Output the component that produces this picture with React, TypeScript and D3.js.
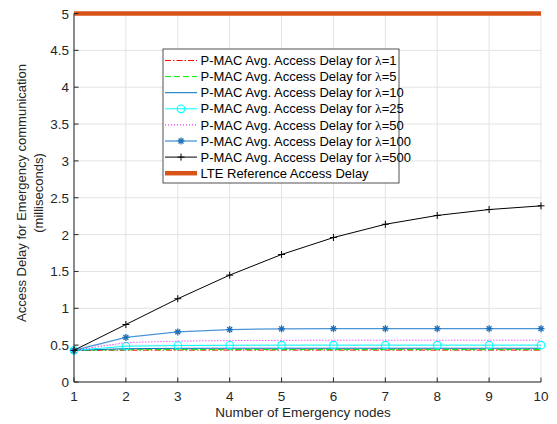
import React from "react";
import * as d3 from "d3";

const nodes = [1, 2, 3, 4, 5, 6, 7, 8, 9, 10];
const lambda1 = [0.43, 0.432, 0.433, 0.433, 0.433, 0.433, 0.433, 0.433, 0.433, 0.433];
const lambda5 = [0.43, 0.438, 0.44, 0.44, 0.44, 0.44, 0.44, 0.44, 0.44, 0.44];
const lambda10 = [0.43, 0.452, 0.457, 0.458, 0.458, 0.458, 0.458, 0.458, 0.458, 0.458];
const lambda25 = [0.43, 0.485, 0.495, 0.498, 0.5, 0.5, 0.5, 0.5, 0.5, 0.5];
const lambda50 = [0.43, 0.535, 0.555, 0.562, 0.565, 0.567, 0.567, 0.567, 0.567, 0.567];
const lambda100 = [0.43, 0.605, 0.68, 0.712, 0.722, 0.724, 0.724, 0.724, 0.724, 0.724];
const lambda500 = [0.43, 0.78, 1.13, 1.45, 1.73, 1.96, 2.14, 2.26, 2.34, 2.39];
const lteRef = [5, 5, 5, 5, 5, 5, 5, 5, 5, 5];
const yTicks = [0, 0.5, 1, 1.5, 2, 2.5, 3, 3.5, 4, 4.5, 5];
const lambdaLabels = ["1", "5", "10", "25", "50", "100", "500"];

type S = { vals: number[]; color: string; width: number; dash?: string; marker?: "o" | "*" | "+"; markerColor?: string; label: string; lam?: string };

const series: S[] = [
  { vals: lambda1, color: "#ff0000", width: 1, dash: "6,2,1.5,2", label: "P-MAC Avg. Access Delay for ", lam: lambdaLabels[0] },
  { vals: lambda5, color: "#00ee00", width: 1, dash: "6,3", label: "P-MAC Avg. Access Delay for ", lam: lambdaLabels[1] },
  { vals: lambda10, color: "#0072BD", width: 1, label: "P-MAC Avg. Access Delay for ", lam: lambdaLabels[2] },
  { vals: lambda25, color: "#00ffff", width: 1, marker: "o", label: "P-MAC Avg. Access Delay for ", lam: lambdaLabels[3] },
  { vals: lambda50, color: "#ff00ff", width: 1, dash: "1,2", label: "P-MAC Avg. Access Delay for ", lam: lambdaLabels[4] },
  { vals: lambda100, color: "#4a95d6", width: 1.3, marker: "*", markerColor: "#1a6db5", label: "P-MAC Avg. Access Delay for ", lam: lambdaLabels[5] },
  { vals: lambda500, color: "#000000", width: 1, marker: "+", label: "P-MAC Avg. Access Delay for ", lam: lambdaLabels[6] },
  { vals: lteRef, color: "#D95319", width: 4.5, label: "LTE Reference Access Delay" },
];

const W = 557, H = 424;
const L = 74, R = 541, T = 13.5, B = 382;

function Marker({ type, x, y, color }: { type?: string; x: number; y: number; color: string }) {
  if (type === "o") return <circle cx={x} cy={y} r={3.8} fill="none" stroke={color} strokeWidth={1.1} />;
  if (type === "+") return <g stroke={color} strokeWidth={1}><line x1={x - 3.5} x2={x + 3.5} y1={y} y2={y} /><line x1={x} x2={x} y1={y - 3.5} y2={y + 3.5} /></g>;
  if (type === "*") {
    const r = 3.5;
    return <g stroke={color} strokeWidth={1.3}>
      <line x1={x - r} x2={x + r} y1={y} y2={y} />
      <line x1={x} x2={x} y1={y - r} y2={y + r} />
      <line x1={x - r * 0.7} x2={x + r * 0.7} y1={y - r * 0.7} y2={y + r * 0.7} />
      <line x1={x - r * 0.7} x2={x + r * 0.7} y1={y + r * 0.7} y2={y - r * 0.7} />
    </g>;
  }
  return null;
}

export default function App() {
  const x = d3.scaleLinear().domain([1, 10]).range([L, R]);
  const y = d3.scaleLinear().domain([0, 5]).range([B, T]);
  const line = d3.line<number>().x((_, i) => x(nodes[i])).y((d) => y(d));
  const font = "'Liberation Sans', Arial, sans-serif";
  const legX = 163, legY = 49, legW = 236, legH = 134, rowH = 16.1;
  return (
    <svg width={W} height={H} style={{ position: "absolute", left: 0, top: 0, background: "#fff" }} fontFamily={font}>
      <rect x={0} y={0} width={W} height={H} fill="#fff" />
      {nodes.map((n) => <line key={"gx" + n} x1={x(n)} x2={x(n)} y1={T} y2={B} stroke="#e3e3e3" strokeWidth={1} />)}
      {yTicks.map((t) => <line key={"gy" + t} x1={L} x2={R} y1={y(t)} y2={y(t)} stroke="#e3e3e3" strokeWidth={1} />)}
      {series.map((s, i) => (
        <g key={"s" + i}>
          <path d={line(s.vals) || ""} fill="none" stroke={s.color} strokeWidth={s.width} strokeDasharray={s.dash} />
          {s.marker && s.vals.map((v, j) => <Marker key={j} type={s.marker} x={x(nodes[j])} y={y(v)} color={s.markerColor || s.color} />)}
        </g>
      ))}
      <line x1={L} x2={L} y1={T} y2={B} stroke="#262626" strokeWidth={1} />
      <line x1={L} x2={R} y1={B} y2={B} stroke="#262626" strokeWidth={1} />
      {nodes.map((n) => (
        <g key={"tx" + n}>
          <line x1={x(n)} x2={x(n)} y1={B} y2={B - 4.5} stroke="#262626" />
          <text x={x(n)} y={B + 18.5} textAnchor="middle" fontSize={13.5} fill="#262626">{n}</text>
        </g>
      ))}
      {yTicks.map((t) => (
        <g key={"ty" + t}>
          <line x1={L} x2={L + 4.5} y1={y(t)} y2={y(t)} stroke="#262626" />
          <text x={L - 5} y={y(t) + 5} textAnchor="end" fontSize={13.5} fill="#262626">{t}</text>
        </g>
      ))}
      <text x={303} y={417} textAnchor="middle" fontSize={13.5} fill="#262626">Number of Emergency nodes</text>
      <g transform={`translate(26, 193) rotate(-90)`}>
        <text x={0} y={0} textAnchor="middle" fontSize={13} fill="#262626">Access Delay for Emergency communication</text>
        <text x={0} y={17} textAnchor="middle" fontSize={13} fill="#262626">(milliseconds)</text>
      </g>
      <rect x={legX} y={legY} width={legW} height={legH} fill="#fff" stroke="#262626" strokeWidth={0.8} />
      {series.map((s, i) => {
        const cy = legY + 11.5 + i * rowH;
        return (
          <g key={"l" + i}>
            <line x1={legX + 2} x2={legX + 34} y1={cy} y2={cy} stroke={s.color} strokeWidth={s.width} strokeDasharray={s.dash} />
            {s.marker && <Marker type={s.marker} x={legX + 18} y={cy} color={s.markerColor || s.color} />}
            <text x={legX + 37.5} y={cy + 4.6} fontSize={13} fill="#000">
              {s.label}
              {s.lam && <tspan fontFamily="'Liberation Serif', 'DejaVu Serif', serif" fontSize={13.5}>λ</tspan>}
              {s.lam && <tspan>={s.lam}</tspan>}
            </text>
          </g>
        );
      })}
    </svg>
  );
}
